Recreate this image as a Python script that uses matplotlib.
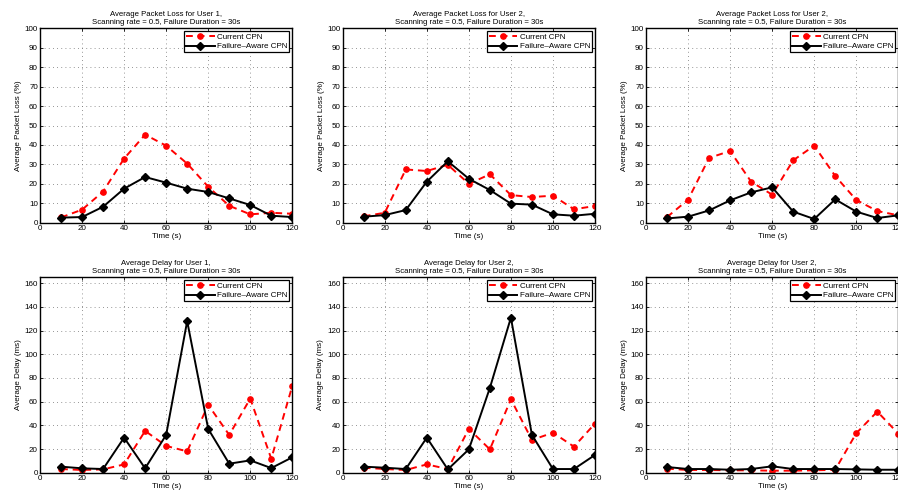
import numpy as np
import matplotlib
matplotlib.use('Agg')
import matplotlib.pyplot as plt

plt.rcParams['font.family'] = ['Liberation Sans', 'DejaVu Sans']

# time axis (s)
time = [10, 20, 30, 40, 50, 60, 70, 80, 90, 100, 110, 120]

# packet loss (%)
loss_u1_current = [2.7, 6.7, 16.0, 33.0, 45.3, 39.6, 30.4, 18.5, 8.7, 4.3, 5.1, 4.6]
loss_u1_aware = [2.6, 2.9, 8.2, 17.5, 23.5, 20.6, 17.5, 15.8, 12.5, 9.1, 3.6, 2.9]
loss_u2_current = [3.3, 5.1, 27.4, 26.6, 29.8, 20.0, 24.9, 14.2, 13.2, 13.9, 6.9, 8.6]
loss_u2_aware = [3.1, 3.9, 6.5, 21.1, 31.6, 22.6, 16.8, 9.8, 9.3, 4.3, 3.6, 4.6]
loss_u2b_current = [2.9, 11.8, 33.3, 36.9, 21.1, 14.4, 32.1, 39.6, 24.0, 11.7, 6.0, 3.8]
loss_u2b_aware = [2.2, 3.1, 6.3, 11.5, 15.6, 18.2, 5.7, 1.9, 12.0, 5.7, 2.4, 3.8]

# delay (ms)
delay_u1_current = [3.1, 2.3, 2.8, 7.0, 35.3, 22.6, 18.0, 57.3, 31.9, 62.6, 11.8, 73.3]
delay_u1_aware = [5.1, 3.7, 3.1, 29.6, 3.7, 31.9, 128.0, 37.0, 7.6, 10.4, 3.9, 13.0]
delay_u2_current = [4.2, 3.1, 2.3, 7.0, 3.1, 37.0, 19.7, 62.0, 27.6, 33.8, 22.0, 41.5]
delay_u2_aware = [5.1, 4.2, 3.1, 29.6, 2.8, 19.7, 71.6, 130.9, 31.9, 3.1, 3.1, 15.0]
delay_u2b_current = [3.4, 2.3, 2.3, 2.0, 2.0, 1.7, 1.7, 2.0, 2.5, 33.3, 51.6, 33.0]
delay_u2b_aware = [4.8, 3.1, 3.1, 2.5, 3.1, 5.4, 3.1, 3.1, 3.1, 2.8, 2.5, 2.5]

sub = 'Scanning rate = 0.5, Failure Duration = 30s'
panels = [
    ('Average Packet Loss for User 1,', 'Average Packet Loss (%)', loss_u1_current, loss_u1_aware, 100, 10),
    ('Average Packet Loss for User 2,', 'Average Packet Loss (%)', loss_u2_current, loss_u2_aware, 100, 10),
    ('Average Packet Loss for User 2,', 'Average Packet Loss (%)', loss_u2b_current, loss_u2b_aware, 100, 10),
    ('Average Delay for User 1,', 'Average Delay (ms)', delay_u1_current, delay_u1_aware, 165, 20),
    ('Average Delay for User 2,', 'Average Delay (ms)', delay_u2_current, delay_u2_aware, 165, 20),
    ('Average Delay for User 2,', 'Average Delay (ms)', delay_u2b_current, delay_u2b_aware, 165, 20),
]

W, H = 898, 497
fig = plt.figure(figsize=(W / 100, H / 100), dpi=100)

lefts = [40, 342.7, 646]
aw = 252.3
rows = [(28.3, 222.7), (277.3, 472.7)]

for i, (title, ylab, cur, awr, ymax, ystep) in enumerate(panels):
    r, c = divmod(i, 3)
    top, bot = rows[r]
    ax = fig.add_axes([lefts[c] / W, (H - bot) / H, aw / W, (bot - top) / H])
    ax.plot(time, cur, color='red', linestyle='--', linewidth=1.4, marker='o',
            markersize=3.8, dashes=(3.5, 2.5), label='Current CPN')
    ax.plot(time, awr, color='black', linestyle='-', linewidth=1.4, marker='D',
            markersize=4.0, label='Failure\u2013Aware CPN')
    ax.set_xlim(0, 120)
    ax.set_ylim(0, ymax)
    ax.set_xticks(np.arange(0, 121, 20))
    ax.set_yticks(np.arange(0, ymax + 1, ystep))
    ax.grid(True, color='0.45', linestyle=(0, (1, 4)), linewidth=0.6)
    ax.tick_params(direction='in', length=2, width=0.6, top=True, right=True,
                   labelsize=5.8, pad=1.5)
    for s in ax.spines.values():
        s.set_linewidth(1.0)
    ax.set_title(title + '\n' + sub, fontsize=5.6, pad=3, linespacing=1.15)
    ax.set_xlabel('Time (s)', fontsize=5.8, labelpad=1)
    ax.set_ylabel(ylab, fontsize=5.8, labelpad=2)
    leg = ax.legend(loc='upper right', fontsize=5.8, fancybox=False, framealpha=1,
                    edgecolor='black', borderaxespad=0.35, handlelength=3.5,
                    borderpad=0.25, labelspacing=0.25, handletextpad=0.3)
    leg.get_frame().set_linewidth(0.9)

fig.savefig('out.png', dpi=100)
